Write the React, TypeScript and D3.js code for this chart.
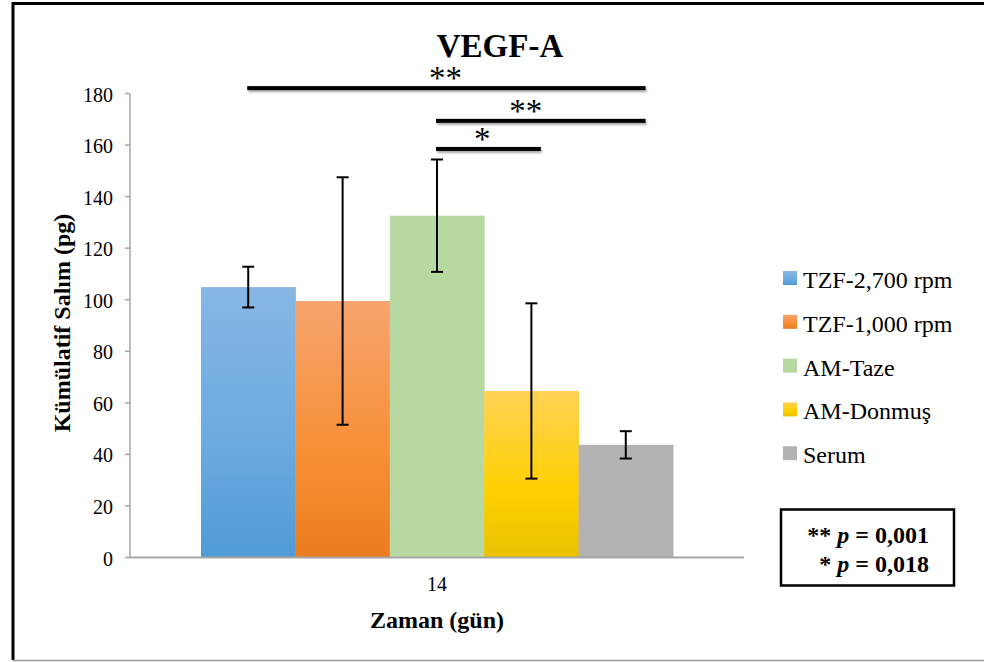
import React from "react";
import * as d3 from "d3";

const categories = ["14"];
const seriesNames = ["TZF-2,700 rpm", "TZF-1,000 rpm", "AM-Taze", "AM-Donmuş", "Serum"];
const means = [104.9, 99.5, 132.6, 64.6, 43.7];
const errors = [7.9, 48, 21.8, 34, 5.3];
const yTicks = [0, 20, 40, 60, 80, 100, 120, 140, 160, 180];
// significance brackets: from/to in bar-index units, level in y units
const brackets = [
  { from: 0, to: 4.21, level: 182.1, label: "**", labelAt: 2.09 },
  { from: 2, to: 4.21, level: 169.4, label: "**", labelAt: 2.94 },
  { from: 2, to: 3.1, level: 158.5, label: "*", labelAt: 2.48 },
];
const pLines = ["** ", "p", " = 0,001"];
const pLines2 = ["* ", "p", " = 0,018"];

const gradStops: [string, string, string][] = [
  ["#87b7e4", "#6aa9e0", "#4f9bd6"],
  ["#f6a46e", "#f78f35", "#eb7c1f"],
  ["#b8d8a1", "#b8d8a1", "#b8d8a1"],
  ["#ffd256", "#ffd000", "#eac100"],
  ["#b3b3b3", "#b3b3b3", "#b3b3b3"],
];

const W = 984;
const H = 662;
const serif = '"Liberation Serif", "Tinos", "DejaVu Serif", serif';

export default function App() {
  const x0 = d3.scaleBand<string>().domain(categories).range([130, 744]).padding(0.1308);
  const x1 = d3
    .scaleBand<string>()
    .domain(seriesNames)
    .range([0, x0.bandwidth()])
    .padding(0);
  const y = d3.scaleLinear().domain([0, 180]).range([557.5, 93.5]);
  const bw = x1.bandwidth();
  const cx = (i: number) => (x0(categories[0]) as number) + (x1(seriesNames[0]) as number) + bw * (i + 0.5);

  return (
    <svg
      width={W}
      height={H}
      style={{ position: "absolute", left: 0, top: 0, background: "#fff", fontFamily: serif }}
    >
      <defs>
        {gradStops.map((s, i) => (
          <linearGradient key={i} id={`g${i}`} x1="0" y1="0" x2="0" y2="1">
            <stop offset="0%" stopColor={s[0]} />
            <stop offset="60%" stopColor={s[1]} />
            <stop offset="100%" stopColor={s[2]} />
          </linearGradient>
        ))}
        <filter id="sh" x="-5%" y="-100%" width="110%" height="300%">
          <feDropShadow dx="1" dy="2" stdDeviation="1.2" floodColor="#000" floodOpacity="0.35" />
        </filter>
      </defs>
      <rect x={0} y={0} width={W} height={H} fill="#fff" />
      {/* outer frame */}
      <line x1={13} y1={3.5} x2={W} y2={3.5} stroke="#000" strokeWidth={3} />
      <line x1={13} y1={2} x2={13} y2={660} stroke="#000" strokeWidth={3} />
      <line x1={13} y1={660.5} x2={W} y2={660.5} stroke="#999" strokeWidth={1.5} />

      {/* title */}
      <text x={500} y={57} textAnchor="middle" fontSize={33} fontWeight="bold">
        VEGF-A
      </text>

      {/* bars */}
      {categories.map((c) =>
        seriesNames.map((s, i) => {
          const x = (x0(c) as number) + (x1(s) as number);
          return (
            <rect key={s} x={x} y={y(means[i])} width={bw + 0.5} height={y(0) - y(means[i])} fill={`url(#g${i})`} />
          );
        })
      )}

      {/* axes */}
      <line x1={130} y1={y(180)} x2={130} y2={y(0)} stroke="#a6a6a6" strokeWidth={1.5} />
      {yTicks.map((t) => (
        <g key={t}>
          <line x1={125} y1={y(t)} x2={130} y2={y(t)} stroke="#a6a6a6" strokeWidth={1.5} />
          <text x={113} y={y(t) + 8} textAnchor="end" fontSize={20} fill="#000">
            {t}
          </text>
        </g>
      ))}
      <line x1={129} y1={y(0)} x2={744} y2={y(0)} stroke="#a6a6a6" strokeWidth={2} />
      {categories.map((c) => (
        <text key={c} x={(x0(c) as number) + x0.bandwidth() / 2} y={591} textAnchor="middle" fontSize={20}>
          {c}
        </text>
      ))}

      {/* error bars */}
      {means.map((m, i) => {
        const xc = cx(i);
        const top = y(m + errors[i]);
        const bot = y(m - errors[i]);
        return (
          <g key={i} stroke="#000" strokeWidth={2}>
            <line x1={xc} y1={top} x2={xc} y2={bot} />
            <line x1={xc - 6} y1={top} x2={xc + 6} y2={top} />
            <line x1={xc - 6} y1={bot} x2={xc + 6} y2={bot} />
          </g>
        );
      })}

      {/* significance */}
      {brackets.map((b, i) => (
        <g key={i}>
          <rect
            x={cx(b.from) - 1}
            width={cx(b.to) - cx(b.from) + 1}
            y={y(b.level) - 2}
            height={4}
            fill="#000"
            filter="url(#sh)"
          />
          <text x={cx(b.labelAt)} y={y(b.level) + 1} textAnchor="middle" fontSize={33}>
            {b.label}
          </text>
        </g>
      ))}

      {/* axis titles */}
      <text x={437} y={628} textAnchor="middle" fontSize={24} fontWeight="bold">
        Zaman (gün)
      </text>
      <text transform="translate(70,323) rotate(-90)" textAnchor="middle" fontSize={24} fontWeight="bold">
        Kümülatif Salım (pg)
      </text>

      {/* legend */}
      {seriesNames.map((s, i) => {
        const base = 288 + i * 43.8;
        return (
          <g key={s}>
            <rect x={783} y={base - 17} width={14} height={14} fill={`url(#g${i})`} />
            <text x={803} y={base} fontSize={24}>
              {s}
            </text>
          </g>
        );
      })}

      {/* p-value box */}
      <rect x={781} y={509.5} width={173} height={76} fill="#fff" stroke="#000" strokeWidth={2.5} />
      <text x={929} y={543} textAnchor="end" fontSize={24} fontWeight="bold">
        {pLines[0]}
        <tspan fontStyle="italic">{pLines[1]}</tspan>
        {pLines[2]}
      </text>
      <text x={929} y={572} textAnchor="end" fontSize={24} fontWeight="bold">
        {pLines2[0]}
        <tspan fontStyle="italic">{pLines2[1]}</tspan>
        {pLines2[2]}
      </text>
    </svg>
  );
}
